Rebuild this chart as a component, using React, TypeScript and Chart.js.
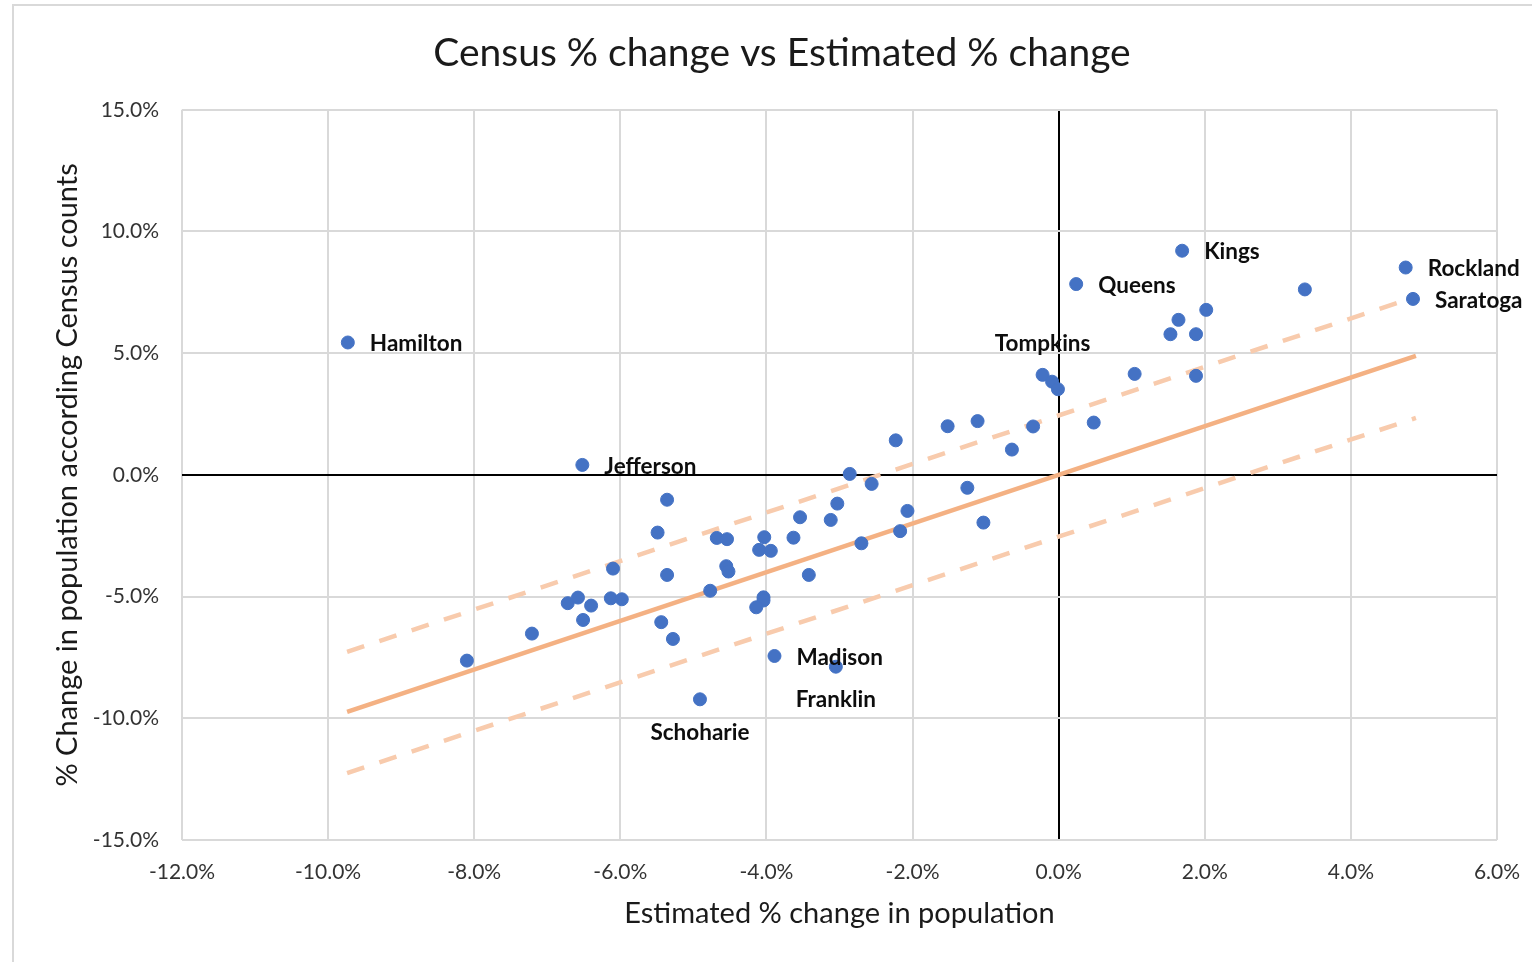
import React, { useEffect, useRef } from 'react';
import { Chart, registerables } from 'chart.js';

Chart.register(...registerables);

// Estimated % change in population (x) and Census % change (y), one entry per county
const estimatedChange = [
  -9.73, -6.52, -5.36, -5.49, -6.10, -5.36, -4.68, -4.54, -4.55, -4.52,
  -6.72, -6.58, -6.40, -6.51, -6.13, -5.98, -5.44, -5.28, -7.21, -8.10,
  -4.77, -4.91, -4.03, -4.10, -3.94, -3.63, -3.54, -3.12, -3.03, -2.86,
  -2.56, -2.23, -1.52, -1.11, -0.35, -0.64, -1.25, -2.07, -2.17, -2.70,
  -1.03, -3.42, -4.04, -4.04, -4.14, -3.89, -3.05, -0.22, -0.09, -0.01,
  0.24, 0.48, 1.04, 1.53, 1.64, 1.69, 1.88, 1.88, 2.02, 3.37,
  4.75, 4.85,
];
const censusChange = [
  5.44, 0.41, -1.02, -2.37, -3.85, -4.11, -2.59, -2.64, -3.75, -3.97,
  -5.27, -5.04, -5.37, -5.96, -5.07, -5.11, -6.05, -6.74, -6.52, -7.63,
  -4.76, -9.22, -2.56, -3.08, -3.12, -2.58, -1.74, -1.85, -1.18, 0.04,
  -0.37, 1.42, 2.00, 2.21, 1.99, 1.04, -0.53, -1.48, -2.31, -2.81,
  -1.96, -4.11, -5.03, -5.16, -5.44, -7.44, -7.88, 4.11, 3.83, 3.52,
  7.84, 2.15, 4.15, 5.78, 6.37, 9.21, 5.78, 4.07, 6.78, 7.62,
  8.52, 7.23,
];
const countyNames = [
  'Hamilton', 'Jefferson', '', '', '', '', '', '', '', '',
  '', '', '', '', '', '', '', '', '', '',
  '', 'Schoharie', '', '', '', '', '', '', '', '',
  '', '', '', '', '', '', '', '', '', '',
  '', '', '', '', '', 'Madison', 'Franklin', 'Tompkins', '', '',
  'Queens', '', '', '', '', 'Kings', '', '', '', '',
  'Rockland', 'Saratoga',
];

// 1:1 line and +/- 2.5 point band, endpoints
const fitX = [-9.74, 4.89];
const fitY = [-9.74, 4.89];
const upperX = [-9.74, 4.89];
const upperY = [-7.27, 7.32];
const lowerX = [-9.74, 4.89];
const lowerY = [-12.25, 2.34];

const xTickValues = [-12, -10, -8, -6, -4, -2, 0, 2, 4, 6];
const yTickValues = [-15, -10, -5, 0, 5, 10, 15];

const FONT = 'Lato, "Noto Sans", sans-serif';

const labelPlacement: Record<string, string> = {
  Tompkins: 'above',
  Franklin: 'below',
  Schoharie: 'below',
};

const pointLabelPlugin = {
  id: 'pointLabels',
  afterDatasetsDraw(chart: any) {
    const meta = chart.getDatasetMeta(0);
    const ctx = chart.ctx;
    ctx.save();
    ctx.font = `bold 22.5px ${FONT}`;
    ctx.fillStyle = '#0d0d0d';
    ctx.textBaseline = 'middle';
    meta.data.forEach((pt: any, i: number) => {
      const name = countyNames[i];
      if (!name) return;
      const place = labelPlacement[name] || 'right';
      if (place === 'right') {
        ctx.textAlign = 'left';
        ctx.fillText(name, pt.x + 22, pt.y + 1.5);
      } else if (place === 'above') {
        ctx.textAlign = 'center';
        ctx.fillText(name, pt.x, pt.y - 31.5);
      } else {
        ctx.textAlign = 'center';
        ctx.fillText(name, pt.x, pt.y + 33);
      }
    });
    ctx.restore();
  },
};

const toXY = (xs: number[], ys: number[]) => xs.map((x, i) => ({ x, y: ys[i] }));

export default function App() {
  const canvasRef = useRef<HTMLCanvasElement | null>(null);

  useEffect(() => {
    document.documentElement.style.overflow = 'hidden';
    document.body.style.overflow = 'hidden';
    const canvas = canvasRef.current;
    if (!canvas) return;
    const gridColor = (c: any) => (c.tick && c.tick.value === 0 ? '#000000' : '#d9d9d9');
    const chart = new Chart(canvas, {
      type: 'scatter',
      data: {
        datasets: [
          {
            label: 'Counties',
            data: toXY(estimatedChange, censusChange),
            backgroundColor: '#4472C4',
            borderColor: '#4472C4',
            borderWidth: 1,
            pointRadius: 6.5,
            order: 0,
          },
          {
            label: '1:1',
            data: toXY(fitX, fitY),
            showLine: true,
            borderColor: '#F4B183',
            borderWidth: 4.5,
            pointRadius: 0,
            order: 1,
          },
          {
            label: 'upper',
            data: toXY(upperX, upperY),
            showLine: true,
            borderColor: '#F8CBAD',
            borderWidth: 4.5,
            borderDash: [18, 16],
            pointRadius: 0,
            order: 1,
          },
          {
            label: 'lower',
            data: toXY(lowerX, lowerY),
            showLine: true,
            borderColor: '#F8CBAD',
            borderWidth: 4.5,
            borderDash: [18, 16],
            pointRadius: 0,
            order: 1,
          },
        ],
      } as any,
      options: {
        animation: false,
        responsive: false,
        layout: { padding: 0 },
        plugins: {
          legend: { display: false },
          tooltip: { enabled: false },
          title: {
            display: true,
            text: 'Census % change vs Estimated % change',
            color: '#1a1a1a',
            font: { family: FONT, size: 39, weight: 'normal' as any, lineHeight: 1.2 },
            padding: { top: 24, bottom: 33 },
          },
        },
        scales: {
          x: {
            type: 'linear',
            position: 'bottom',
            min: -12,
            max: 6,
            afterBuildTicks: (s: any) => {
              s.ticks = xTickValues.map((v) => ({ value: v }));
            },
            afterFit: (s: any) => {
              s.height = 122;
            },
            grid: { color: gridColor, lineWidth: 2, drawTicks: false },
            border: { display: false },
            ticks: {
              padding: 20,
              color: '#333333',
              font: { family: FONT, size: 21 },
              callback: (v: any) => `${Number(v).toFixed(1)}%`,
            },
            title: {
              display: true,
              text: 'Estimated % change in population',
              color: '#1a1a1a',
              font: { family: FONT, size: 29, lineHeight: 1.2 },
              padding: { top: 0, bottom: 31 },
            },
          },
          y: {
            type: 'linear',
            position: 'left',
            min: -15,
            max: 15,
            afterBuildTicks: (s: any) => {
              s.ticks = yTickValues.map((v) => ({ value: v }));
            },
            afterFit: (s: any) => {
              s.width = 168;
            },
            grid: { color: gridColor, lineWidth: 2, drawTicks: false },
            border: { display: false },
            ticks: {
              padding: 23,
              color: '#333333',
              font: { family: FONT, size: 21 },
              callback: (v: any) => `${Number(v).toFixed(1)}%`,
            },
            title: {
              display: true,
              text: '% Change in population according Census counts',
              color: '#1a1a1a',
              font: { family: FONT, size: 29, lineHeight: 1.2 },
              padding: { top: 36.6, bottom: 0 },
            },
          },
          yR: {
            type: 'linear',
            position: 'right',
            display: true,
            grid: { display: false },
            border: { display: false },
            ticks: { display: false },
            afterFit: (s: any) => {
              s.width = 53;
            },
          },
        },
      } as any,
      plugins: [pointLabelPlugin],
    });
    return () => chart.destroy();
  }, []);

  return (
    <div
      style={{
        position: 'absolute',
        left: 12,
        top: 4,
        width: 1536,
        height: 1000,
        border: '2px solid #d9d9d9',
        background: '#ffffff',
      }}
    >
      <canvas ref={canvasRef} width={1536} height={956} style={{ display: 'block' }} />
    </div>
  );
}
